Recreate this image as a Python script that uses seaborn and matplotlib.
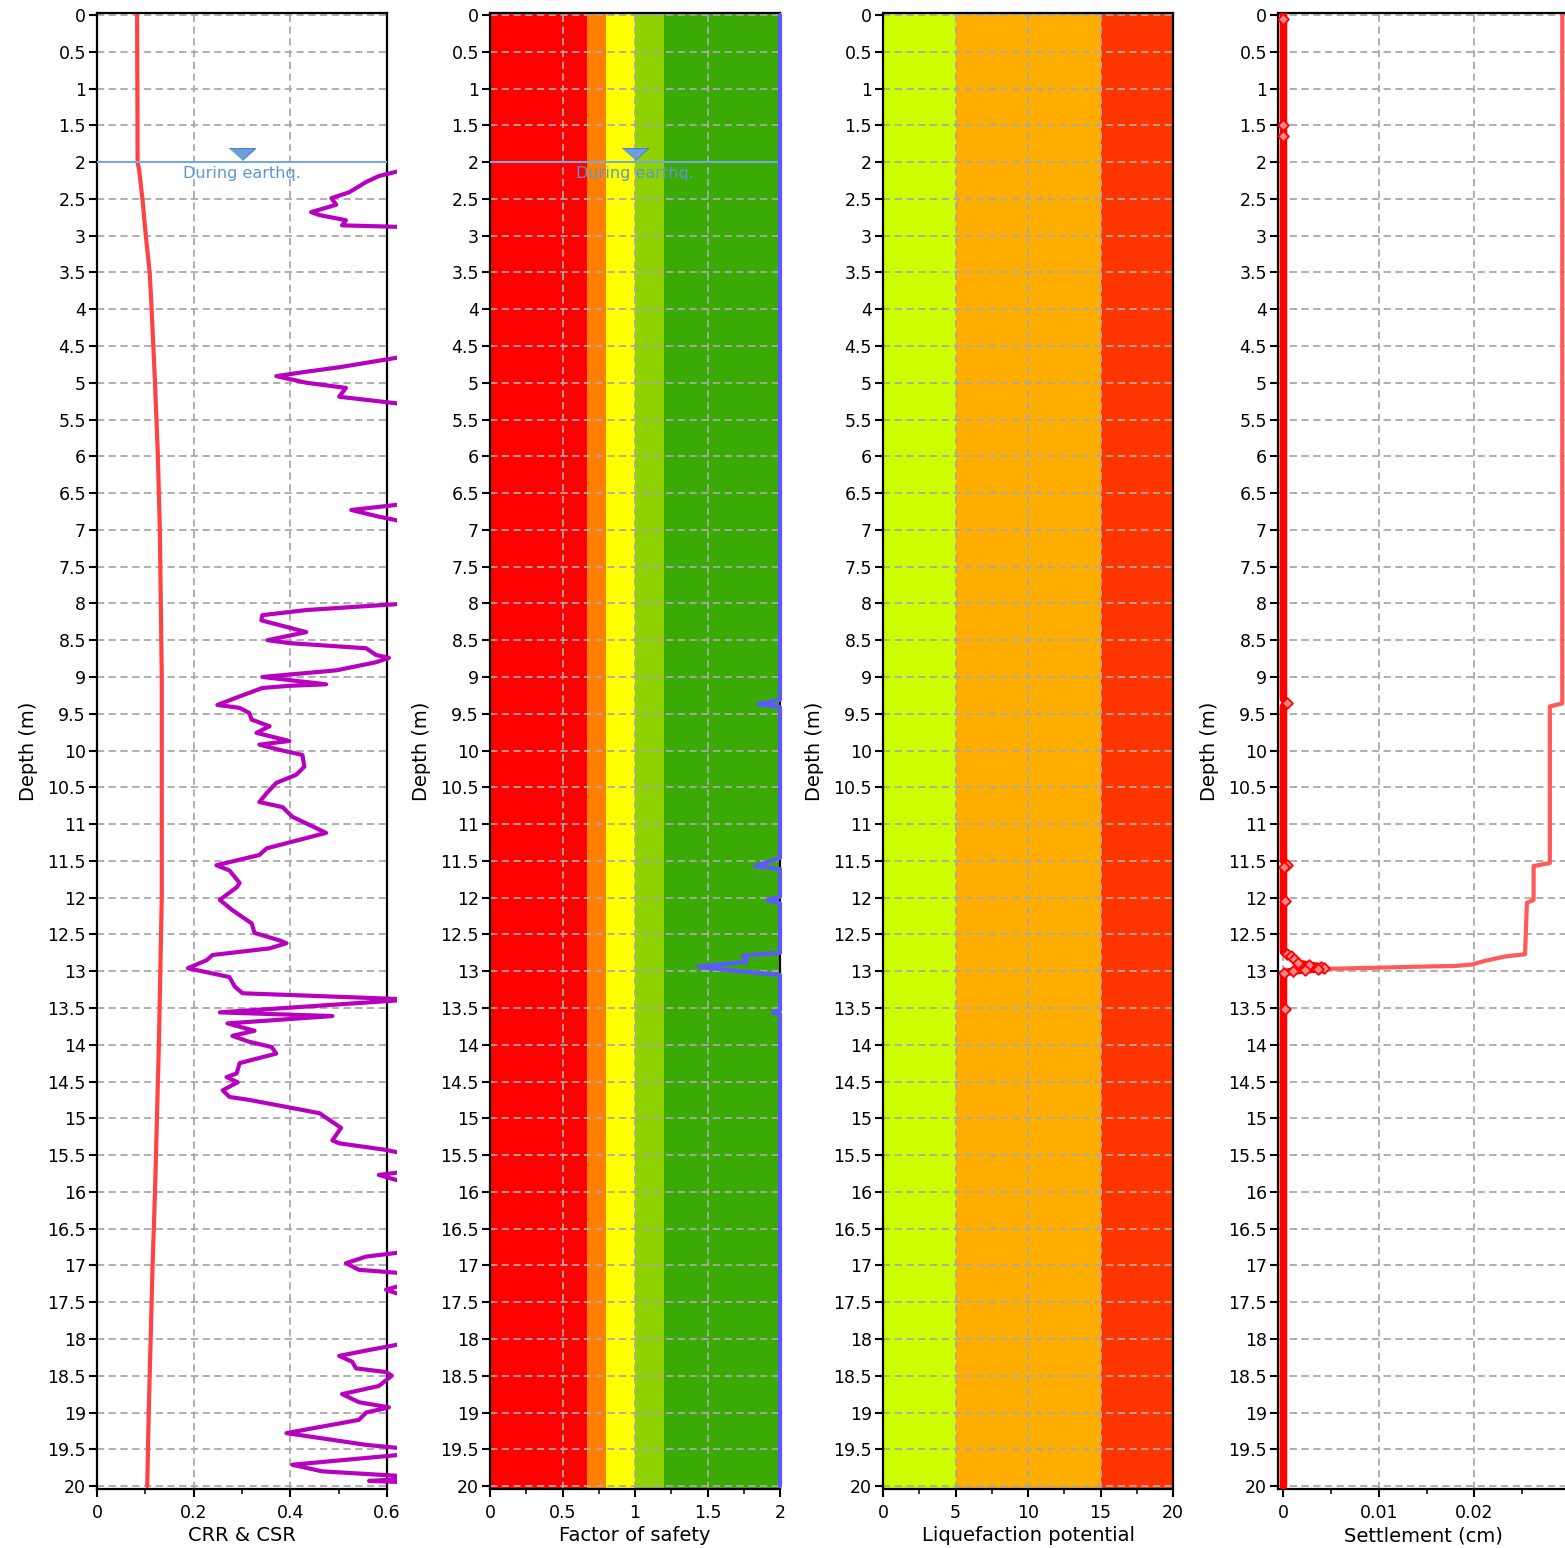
import numpy as np
import pandas as pd
import matplotlib
matplotlib.use("Agg")
import matplotlib.pyplot as plt
import seaborn as sns
from matplotlib.patches import Rectangle
from matplotlib.transforms import blended_transform_factory
from matplotlib.ticker import MultipleLocator, FuncFormatter

# ---------------- data ----------------
crr_depth = [2.05, 2.13, 2.19, 2.27, 2.41, 2.49, 2.58, 2.68, 2.72, 2.79, 2.86, 2.88, 2.95,
             4.60, 4.66, 4.79, 4.85, 4.91, 5.00, 5.07, 5.19, 5.28, 5.35,
             6.60, 6.66, 6.73, 6.82, 6.87, 6.93,
             7.95, 8.01, 8.09, 8.16, 8.23, 8.27, 8.39, 8.50, 8.54, 8.61, 8.70, 8.74, 8.80, 8.91,
             9.00, 9.10, 9.12, 9.15, 9.25, 9.38, 9.42, 9.49, 9.58, 9.67, 9.76, 9.87, 9.92, 9.99,
             10.06, 10.22, 10.33, 10.44, 10.58, 10.70, 10.77, 10.90, 11.12, 11.24, 11.33, 11.42,
             11.56, 11.63, 11.80, 11.86, 12.03, 12.17, 12.35, 12.48, 12.58, 12.62, 12.69, 12.78,
             12.85, 12.96, 13.08, 13.21, 13.30, 13.385, 13.56, 13.61, 13.71, 13.81, 13.88, 13.96,
             14.03, 14.12, 14.25, 14.39, 14.44, 14.51, 14.62, 14.71, 14.75, 14.86, 14.93, 15.05,
             15.13, 15.30, 15.34, 15.43, 15.46, 15.55,
             15.70, 15.74, 15.77, 15.84, 15.90,
             16.78, 16.83, 16.88, 16.97, 17.06, 17.10, 17.16,
             17.24, 17.29, 17.33, 17.38, 17.44,
             18.02, 18.08, 18.15, 18.23, 18.31, 18.40, 18.45, 18.50, 18.64, 18.75, 18.86, 18.93,
             19.00, 19.10, 19.28, 19.40, 19.44, 19.48, 19.52,
             19.55, 19.58, 19.71, 19.80, 19.86, 19.90, 19.93, 19.95, 20.00]
crr_value = [2.0, 0.62, 0.583, 0.557, 0.522, 0.485, 0.495, 0.443, 0.46, 0.515, 0.507, 0.62, 2.0,
             2.0, 0.62, 0.501, 0.433, 0.371, 0.433, 0.515, 0.501, 0.62, 2.0,
             2.0, 0.62, 0.526, 0.583, 0.62, 2.0,
             2.0, 0.62, 0.433, 0.342, 0.340, 0.363, 0.433, 0.353, 0.398, 0.557, 0.577, 0.604, 0.577, 0.495,
             0.342, 0.474, 0.398, 0.342, 0.301, 0.249, 0.295, 0.315, 0.320, 0.357, 0.330, 0.398, 0.336, 0.377,
             0.425, 0.429, 0.412, 0.371, 0.351, 0.336, 0.384, 0.404, 0.474, 0.404, 0.351, 0.336,
             0.247, 0.274, 0.295, 0.289, 0.254, 0.280, 0.320, 0.326, 0.377, 0.392, 0.357, 0.239,
             0.227, 0.188, 0.274, 0.285, 0.301, 0.65, 0.254, 0.487, 0.270, 0.326, 0.280, 0.315,
             0.361, 0.371, 0.295, 0.289, 0.268, 0.291, 0.260, 0.274, 0.315, 0.404, 0.460, 0.487,
             0.505, 0.487, 0.501, 0.598, 0.62, 2.0,
             2.0, 0.62, 0.583, 0.62, 2.0,
             2.0, 0.62, 0.557, 0.515, 0.542, 0.62, 2.0,
             2.0, 0.62, 0.598, 0.62, 2.0,
             2.0, 0.62, 0.563, 0.501, 0.528, 0.536, 0.598, 0.610, 0.583, 0.507, 0.542, 0.604,
             0.557, 0.542, 0.392, 0.515, 0.557, 0.62, 2.0,
             2.0, 0.62, 0.404, 0.466, 0.62, 0.65, 0.563, 0.65, 0.65]

csr_depth = [0.0, 2.0, 2.1, 2.5, 3.0, 3.5, 4.0, 5.0, 6.0, 7.0, 8.0, 9.0, 10.0, 11.0, 12.0,
             13.0, 14.0, 15.0, 16.0, 17.0, 18.0, 19.0, 20.0]
csr_value = [0.083, 0.084, 0.087, 0.094, 0.101, 0.109, 0.113, 0.120, 0.126, 0.130, 0.132, 0.134,
             0.134, 0.134, 0.134, 0.131, 0.128, 0.124, 0.120, 0.115, 0.111, 0.107, 0.104]

fs_depth = [0.0, 9.31, 9.37, 9.41, 11.46, 11.57, 11.61, 11.99, 12.03, 12.08,
            12.75, 12.79, 12.87, 12.94, 13.00, 13.05, 13.53, 13.56, 13.58, 20.0]
fs_value = [2.0, 2.0, 1.848, 2.0, 2.0, 1.828, 2.0, 2.0, 1.91, 2.0,
            2.0, 1.745, 1.77, 1.436, 1.72, 2.0, 2.0, 1.95, 2.0, 2.0]

fs_bounds = [0.0, 0.67, 0.8, 1.0, 1.2, 2.0]
fs_colors = ["#ff0000", "#ff8000", "#ffff00", "#8fd200", "#3caa05"]

lpi_bounds = [0.0, 5.0, 15.0, 20.0]
lpi_colors = ["#ccff00", "#ffae00", "#ff3500"]

set_depth = [0.0, 1.50, 1.65, 9.30, 9.35, 9.40, 11.50, 11.55, 11.60, 12.00, 12.04, 12.08,
             12.74, 12.77, 12.80, 12.84, 12.89, 12.92, 12.94, 12.96, 12.97, 12.98, 13.00,
             13.02, 13.05, 13.48, 13.52, 13.56, 20.0]
set_value = [0.0, 0.0, 0.0, 0.0, 0.0004, 0.0, 0.0, 0.0004, 0.0, 0.0, 0.0002, 0.0,
             0.0, 0.0004, 0.0008, 0.0011, 0.0015, 0.0027, 0.0039, 0.0042, 0.0036, 0.0023, 0.0010,
             0.0001, 0.0, 0.0, 0.0002, 0.0, 0.0]
set_marker_depth = [0.05, 1.50, 1.65, 9.35, 11.55, 11.58, 12.04, 12.77, 12.80, 12.84, 12.89,
                    12.92, 12.94, 12.96, 12.97, 12.98, 13.00, 13.02, 13.52]
set_marker_value = [0.0, 0.0, 0.0, 0.0004, 0.0004, 0.0001, 0.0002, 0.0004, 0.0008, 0.0011, 0.0015,
                    0.0027, 0.0039, 0.0042, 0.0036, 0.0023, 0.0010, 0.0001, 0.0002]

cum_depth = [0.0, 9.36, 9.40, 11.53, 11.57, 12.03, 12.07, 12.77, 12.80, 12.86, 12.91,
             12.93, 12.935, 12.96, 12.97, 13.00, 13.03, 20.0]
cum_value = [0.0292, 0.0292, 0.0279, 0.0279, 0.0262, 0.0262, 0.0255, 0.0253, 0.0232, 0.0211, 0.0197,
             0.0179, 0.0155, 0.0074, 0.0042, 0.0010, 0.0, 0.0]

water_depth = 2.0
water_label = "During earthq."

x_labels = ["CRR & CSR", "Factor of safety", "Liquefaction potential", "Settlement (cm)"]
y_label = "Depth (m)"

# ---------------- styling ----------------
sns.set_theme(style="ticks")
plt.rcParams['font.family'] = ['DejaVu Sans']
plt.rcParams['axes.edgecolor'] = 'black'
plt.rcParams['axes.linewidth'] = 1.6

W, H = 1565, 1548
fig = plt.figure(figsize=(W / 100, H / 100), dpi=100)
lefts = [97, 490, 883, 1278]
axes = [fig.add_axes([l / W, 1 - 1489 / H, 290 / W, 1476 / H]) for l in lefts]

xlims = [(0, 0.6), (0, 2), (0, 20), (-0.00057, 0.0298)]
xmajor = [0.2, 0.5, 5, 0.01]
xminor = [0.1, 0.25, 2.5, 0.005]
fmt = FuncFormatter(lambda v, p: f"{v:g}" if abs(v) > 1e-12 else "0")

grid_kw = dict(color="#a9a9a9", linestyle=(0, (4, 2.5)), linewidth=1.3)

for i, ax in enumerate(axes):
    ax.set_xlim(*xlims[i])
    ax.set_ylim(20.04, -0.027)
    ax.yaxis.set_major_locator(MultipleLocator(0.5))
    ax.yaxis.set_major_formatter(fmt)
    ax.xaxis.set_major_locator(MultipleLocator(xmajor[i]))
    ax.xaxis.set_minor_locator(MultipleLocator(xminor[i]))
    ax.xaxis.set_major_formatter(fmt)
    ax.tick_params(axis="both", which="major", direction="out", length=6, width=1.5,
                   labelsize=12.5, pad=2, colors="black")
    ax.tick_params(axis="x", which="minor", direction="out", length=3.5, width=1.3)
    ax.tick_params(axis="x", which="major", pad=5)
    ax.set_axisbelow("line")
    ax.grid(True, which="major", **grid_kw)
    ax.set_xlabel(x_labels[i], fontsize=14, labelpad=3, color="black")
    ax.set_ylabel(y_label, fontsize=14, labelpad=7, color="black")
    for s in ax.spines.values():
        s.set_visible(True)
        s.set_linewidth(1.6)
        s.set_color("black")
    ax.set_facecolor("white")

# ---------- panel 1: CRR & CSR ----------
ax = axes[0]
df_crr = pd.DataFrame({"depth": crr_depth, "value": crr_value})
df_csr = pd.DataFrame({"depth": csr_depth, "value": csr_value})
sns.lineplot(data=df_csr, x="value", y="depth", sort=False, estimator=None, orient="y",
             color="#ff4242", lw=3.0, ax=ax)
sns.lineplot(data=df_crr, x="value", y="depth", sort=False, estimator=None, orient="y",
             color="#b800bf", lw=3.0, ax=ax)
crr_line = ax.lines[-1]
crr_line.set_zorder(3)
clip_rect = Rectangle((0, 0), 0.62, 1,
                      transform=blended_transform_factory(ax.transData, ax.transAxes))
crr_line.set_clip_path(clip_rect)

# ---------- panel 2: factor of safety ----------
ax = axes[1]
for lo, hi, c in zip(fs_bounds[:-1], fs_bounds[1:], fs_colors):
    ax.axvspan(lo, hi, color=c, lw=0, zorder=0)
df_fs = pd.DataFrame({"depth": fs_depth, "value": fs_value})
sns.lineplot(data=df_fs, x="value", y="depth", sort=False, estimator=None, orient="y",
             color="#5a5aff", lw=3.0, ax=ax)
ax.lines[-1].set_zorder(3)
ax.lines[-1].set_clip_on(False)

# ---------- panel 3: liquefaction potential ----------
ax = axes[2]
for lo, hi, c in zip(lpi_bounds[:-1], lpi_bounds[1:], lpi_colors):
    ax.axvspan(lo, hi, color=c, lw=0, zorder=0)

# ---------- panel 4: settlement ----------
ax = axes[3]
df_cum = pd.DataFrame({"depth": cum_depth, "value": cum_value})
df_set = pd.DataFrame({"depth": set_depth, "value": set_value})
df_setm = pd.DataFrame({"depth": set_marker_depth, "value": set_marker_value})
sns.lineplot(data=df_cum, x="value", y="depth", sort=False, estimator=None, orient="y",
             color="#ff5a5a", lw=3.0, ax=ax)
sns.lineplot(data=df_set, x="value", y="depth", sort=False, estimator=None, orient="y",
             color="#ff0000", lw=5.5, ax=ax)
ax.lines[-1].set_zorder(3)
sns.scatterplot(data=df_setm, x="value", y="depth", marker="D", s=30,
                color="#ff8a8a", edgecolor="#ff0000", linewidth=1.3, ax=ax, zorder=4)

# ---------- water table ----------
tri = [(-1, 0.45), (1, 0.45), (0, -0.45)]
for ax, xm in zip(axes[:2], [0.3, 1.0]):
    ax.axhline(water_depth, color="#78a8e2", lw=1.5, zorder=2.6)
    ax.plot([xm], [water_depth - 0.11], marker=tri, markersize=19, color="#6b9edc",
            markeredgecolor="#4d84c8", markeredgewidth=0.8, zorder=2.7, clip_on=False)
    ax.text(xm, water_depth + 0.05, water_label, ha="center", va="top", fontsize=11.5,
            color="#5b97d6", zorder=2.7)

fig.savefig("out.png", dpi=100)
